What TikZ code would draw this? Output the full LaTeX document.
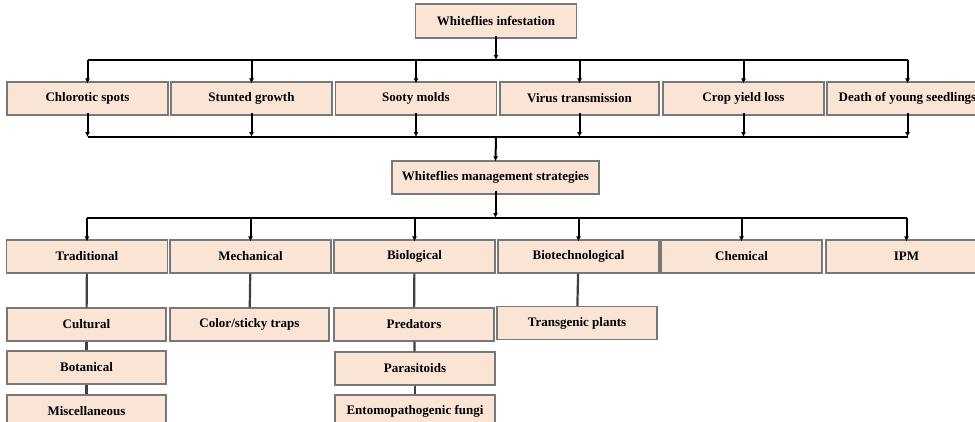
\documentclass[tikz,border=0pt]{standalone}
\usepackage{fontspec}
\setmainfont{Liberation Serif}
\usetikzlibrary{arrows.meta}

\definecolor{peach}{RGB}{250,228,213}
\definecolor{boxline}{RGB}{120,120,120}

\tikzset{
  box/.style={draw=boxline,line width=1.2pt,fill=peach,minimum width=161pt,minimum height=33pt,inner sep=0pt,font=\fontsize{13}{15}\selectfont\bfseries},
  link/.style={line width=2pt,black},
  arr/.style={link,-{Latex[length=5pt,width=5pt]}},
  stem/.style={line width=2.2pt,black!75},
}

\begin{document}
\begin{tikzpicture}[x=1pt,y=-1pt]

\useasboundingbox (0,0) rectangle (975,421) ;
\clip (0,0) rectangle (975,421) ;

\node[box,minimum height=34pt] (infest) at (496,21) {Whiteflies infestation} ;

\node[box] (chloro) at (87.5,98.5) {Chlorotic spots} ;
\node[box] (stunt) at (251.5,98.5) {Stunted growth} ;
\node[box] (sooty) at (416,98.5) {Sooty molds} ;
\node[box,minimum width=159pt] (virus) at (579.5,98.5) {Virus transmission} ;
\node[box] (crop) at (743.5,98.5) {Crop yield loss} ;
\node[box] (death) at (907.5,98.5) {Death of young seedlings} ;

\coordinate (bara) at (496,60) ;
\coordinate (barb) at (496,137) ;

\draw[arr] ([yshift=3pt]infest.south) -- (bara) ;
\draw[link] (chloro.north |- bara) -- (death.north |- bara) ;
\draw[arr] (chloro.north |- bara) -- ([yshift=-2pt]chloro.north) ;
\draw[arr] (stunt.north |- bara) -- ([yshift=-2pt]stunt.north) ;
\draw[arr] (sooty.north |- bara) -- ([yshift=-2pt]sooty.north) ;
\draw[arr] (virus.north |- bara) -- ([yshift=-2pt]virus.north) ;
\draw[arr] (crop.north |- bara) -- ([yshift=-2pt]crop.north) ;
\draw[arr] (death.north |- bara) -- ([yshift=-2pt]death.north) ;

\draw[arr] ([yshift=3pt]chloro.south) -- (chloro.south |- barb) ;
\draw[arr] ([yshift=3pt]stunt.south) -- (stunt.south |- barb) ;
\draw[arr] ([yshift=3pt]sooty.south) -- (sooty.south |- barb) ;
\draw[arr] ([yshift=3pt]virus.south) -- (virus.south |- barb) ;
\draw[arr] ([yshift=3pt]crop.south) -- (crop.south |- barb) ;
\draw[arr] ([yshift=3pt]death.south) -- (death.south |- barb) ;
\draw[link] (chloro.south |- barb) -- (death.south |- barb) ;

\node[box,minimum width=207pt] (manage) at (495.5,177.5) {Whiteflies management strategies} ;

\draw[arr] (barb) -- ([yshift=-1pt]manage.north) ;

\node[box] (trad) at (87,256.5) {Traditional} ;
\node[box] (mech) at (250.5,256.5) {Mechanical} ;
\node[box] (bio) at (414.5,256.5) {Biological} ;
\node[box] (biotech) at (578.5,256.5) {Biotechnological} ;
\node[box] (chem) at (741.5,256.5) {Chemical} ;
\node[box] (ipm) at (906.5,256.5) {IPM} ;

\coordinate (barc) at (495.5,218) ;

\draw[arr] ([yshift=4pt]manage.south) -- (barc) ;
\draw[link] (trad.north |- barc) -- (ipm.north |- barc) ;
\draw[arr] (trad.north |- barc) -- ([yshift=-2pt]trad.north) ;
\draw[arr] (mech.north |- barc) -- ([yshift=-2pt]mech.north) ;
\draw[arr] (bio.north |- barc) -- ([yshift=-2pt]bio.north) ;
\draw[arr] (biotech.north |- barc) -- ([yshift=-2pt]biotech.north) ;
\draw[arr] (chem.north |- barc) -- ([yshift=-2pt]chem.north) ;
\draw[arr] (ipm.north |- barc) -- ([yshift=-2pt]ipm.north) ;

\node[box,minimum width=159pt] (cult) at (86.5,324.5) {Cultural} ;
\node[box,minimum width=159pt] (botan) at (86.5,367.5) {Botanical} ;
\node[box,minimum width=159pt] (misc) at (86.5,411.5) {Miscellaneous} ;

\node[box,minimum width=159pt] (traps) at (249.5,324.5) {Color/sticky traps} ;

\node[box,minimum width=160pt] (pred) at (414,324.5) {Predators} ;
\node[box,minimum width=160pt] (para) at (415,368.5) {Parasitoids} ;
\node[box,minimum width=160pt] (fungi) at (415,411.5) {Entomopathogenic fungi} ;

\node[box,minimum width=160pt] (transg) at (577,323) {Transgenic plants} ;

\draw[stem] (trad) -- (cult) ;
\draw[stem] (cult) -- (botan) ;
\draw[stem] (botan) -- (misc) ;
\draw[stem] (mech) -- (traps) ;
\draw[stem] (bio) -- (pred) ;
\draw[stem] (pred) -- (para) ;
\draw[stem] (para) -- (fungi) ;
\draw[stem] (biotech) -- (transg) ;

\end{tikzpicture}
\end{document}
